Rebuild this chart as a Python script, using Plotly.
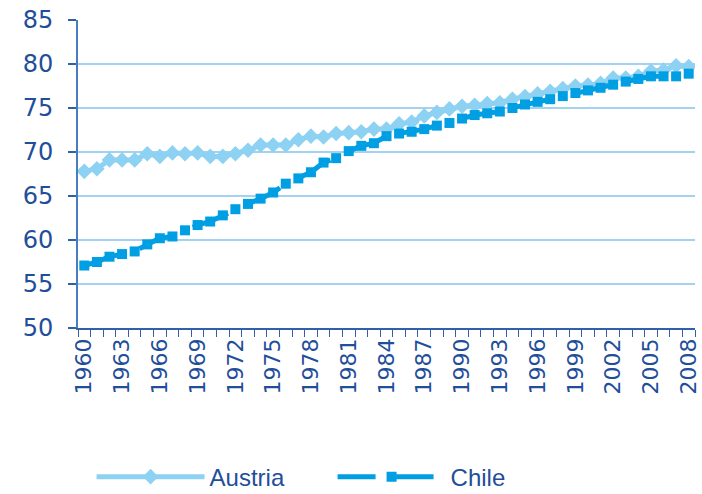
import plotly.graph_objects as go

years = list(range(1960, 2009))

austria = [67.8, 68.1, 69.1, 69.1, 69.1, 69.8, 69.5, 69.9, 69.8, 69.9,
           69.5, 69.5, 69.8, 70.2, 70.8, 70.8, 70.8, 71.4, 71.8, 71.7,
           72.1, 72.2, 72.3, 72.6, 72.6, 73.2, 73.4, 74.1, 74.5, 74.9,
           75.2, 75.3, 75.5, 75.6, 76.0, 76.3, 76.6, 76.9, 77.2, 77.5,
           77.6, 77.8, 78.4, 78.4, 78.6, 79.2, 79.3, 79.8, 79.7]

chile = [57.1, 57.5, 58.1, 58.4, 58.7, 59.5, 60.2, 60.4, 61.1, 61.7,
         62.1, 62.8, 63.5, 64.1, 64.7, 65.4, 66.4, 67.0, 67.7, 68.8,
         69.3, 70.1, 70.7, 71.0, 71.8, 72.1, 72.3, 72.6, 73.0, 73.3,
         73.8, 74.2, 74.4, 74.6, 75.0, 75.4, 75.7, 76.0, 76.35, 76.7,
         77.0, 77.3, 77.65, 78.0, 78.3, 78.6, 78.6, 78.6, 78.9]

label_years = list(range(1960, 2009, 3))
y_ticks = [50, 55, 60, 65, 70, 75, 80, 85]

TEXT = "#1F4E9A"
GRID = "#A3D2EE"

fig = go.Figure()
fig.add_trace(go.Scatter(
    x=years, y=austria, name="Austria", mode="lines+markers",
    line=dict(color="#8DD1F3", width=5),
    marker=dict(symbol="diamond", size=12, color="#8DD1F3"),
))
fig.add_trace(go.Scatter(
    x=years, y=chile, name="Chile", mode="lines+markers",
    line=dict(color="#009FE3", width=5, dash="38px,20px"),
    marker=dict(symbol="square", size=10, color="#009FE3"),
))

fig.update_layout(
    width=702, height=494,
    margin=dict(l=78, r=7, t=20, b=166, autoexpand=False),
    paper_bgcolor="white", plot_bgcolor="white",
    font=dict(family="Liberation Sans, Arial, sans-serif", color=TEXT),
    showlegend=True,
    legend=dict(
        orientation="h", x=0.022, xanchor="left",
        yref="paper", y=-0.484, yanchor="middle",
        font=dict(size=24, color=TEXT), itemwidth=108,
        entrywidth=118, entrywidthmode="pixels",
        bgcolor="rgba(0,0,0,0)",
    ),
    xaxis=dict(
        range=[1959.5, 2008.5], automargin=False,
        tickmode="array", tickvals=label_years, ticktext=[str(y) for y in label_years],
        tickangle=-90, tickfont=dict(size=22, color=TEXT, family="DejaVu Sans"),
        ticks="", showgrid=False, zeroline=False,
        showline=True, linecolor="#2F60A8", linewidth=1.5,
        minor=dict(ticks="outside", tick0=1959.5, dtick=1, ticklen=7,
                   tickcolor="#2F60A8", tickwidth=1.2, showgrid=False),
    ),
    yaxis=dict(
        range=[50, 85], tickvals=y_ticks, automargin=False,
        tickfont=dict(size=24, color=TEXT, family="DejaVu Sans"),
        ticks="outside", ticklen=8, tickcolor="#2F60A8", tickwidth=1.5,
        ticklabelstandoff=10,
        showgrid=True, gridcolor=GRID, gridwidth=1.5, zeroline=False,
        showline=True, linecolor="#4A7CC0", linewidth=2,
    ),
)

fig.write_html("out.html")
